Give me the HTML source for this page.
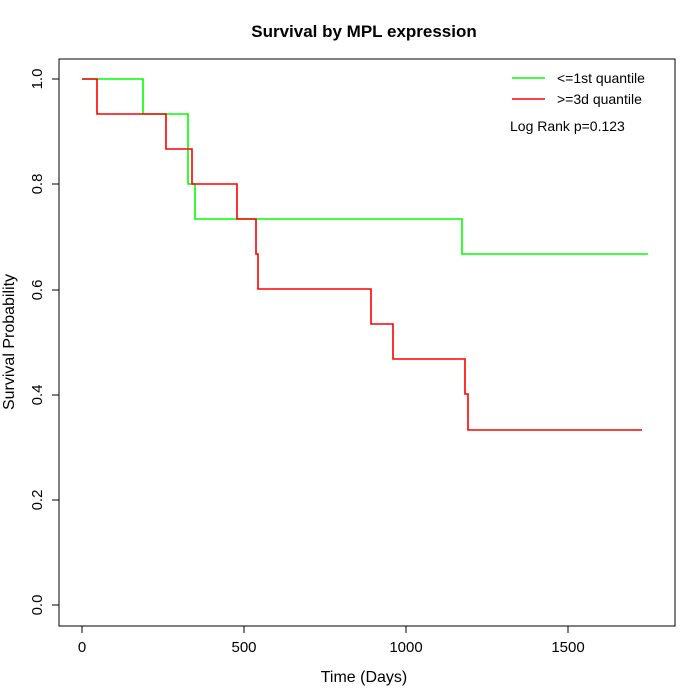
<!DOCTYPE html>
<html><head><style>body{margin:0;background:#fff}svg{display:block}text{font-family:"Liberation Sans",sans-serif}</style></head>
<body>
<svg width="700" height="700" viewBox="0 0 700 700">
<rect width="700" height="700" fill="#fff"/>
<text x="364" y="37" font-size="17" font-weight="bold" text-anchor="middle">Survival by MPL expression</text>
<rect x="59" y="59" width="616" height="567" fill="none" stroke="#000" stroke-width="1"/>
<g stroke="#000" fill="none">
<path d="M82 626V633M244 626V633M406 626V633M568 626V633M82 626H568"/>
<path d="M59 605H52M59 500H52M59 395H52M59 290H52M59 184H52M59 79H52M59 79V605"/>
</g>
<g font-size="15" text-anchor="middle">
<text x="82" y="652">0</text><text x="244" y="652">500</text><text x="406" y="652">1000</text><text x="568" y="652">1500</text>
</g>
<g font-size="15" text-anchor="middle">
<text transform="translate(42,605) rotate(-90)">0.0</text>
<text transform="translate(42,500) rotate(-90)">0.2</text>
<text transform="translate(42,395) rotate(-90)">0.4</text>
<text transform="translate(42,290) rotate(-90)">0.6</text>
<text transform="translate(42,184) rotate(-90)">0.8</text>
<text transform="translate(42,79) rotate(-90)">1.0</text>
</g>
<text x="364" y="682" font-size="16" text-anchor="middle">Time (Days)</text>
<text transform="translate(14,342) rotate(-90)" font-size="16" text-anchor="middle">Survival Probability</text>
<path d="M82 79H143V114H188V184H195V219H462V254H648" fill="none" stroke="#00ff00" stroke-width="1.6"/>
<path d="M82 79H97V114H166V149H192V184H237V219H256V254H258V289H371V324H393V359H465V394H468V430H642" fill="none" stroke="#ff0000" stroke-width="1.6"/>
<path d="M512 78H545" stroke="#00ff00" stroke-width="1.6"/>
<path d="M512 99H545" stroke="#ff0000" stroke-width="1.6"/>
<text x="557" y="83" font-size="14">&lt;=1st quantile</text>
<text x="557" y="104" font-size="14">&gt;=3d quantile</text>
<text x="510" y="131" font-size="14">Log Rank p=0.123</text>
</svg>
</body></html>
